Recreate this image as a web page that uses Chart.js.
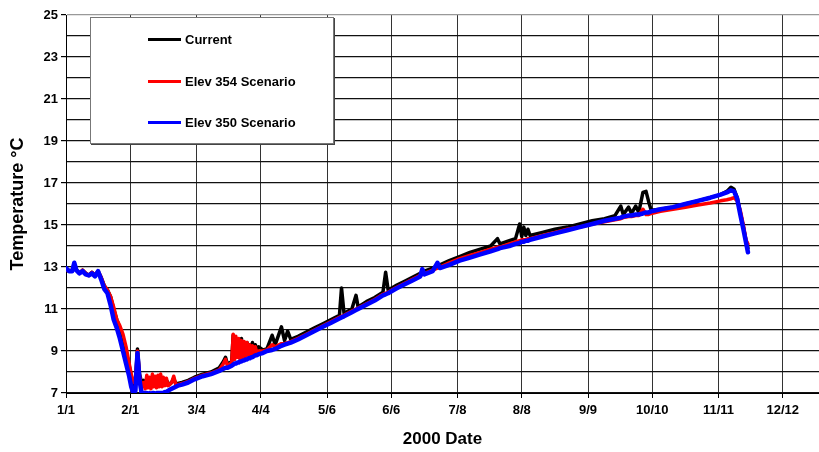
<!DOCTYPE html>
<html lang="en">
<head>
  <meta charset="UTF-8" />
  <title>2000 Temperature Scenarios</title>
  <script src="https://cdn.jsdelivr.net/npm/chart.js"></script>
  <style>
    body {
      margin: 0;
      background: #fff;
      font-family: "Liberation Sans", Arial, sans-serif;
    }
    .wrap {
      position: relative;
      width: 819px;
      height: 452px;
    }
    canvas {
      position: absolute;
      left: 0;
      top: 0;
    }
    .legend {
      position: absolute;
      left: 90px;
      top: 17px;
      width: 242px;
      height: 125px;
      background: #fff;
      border: 1px solid #777;
      box-shadow: 1px 1px 0 #444;
    }
    .legend div {
      position: absolute;
      left: 57px;
      font-weight: bold;
      font-size: 13px;
      line-height: 16px;
      color: #000;
      white-space: nowrap;
    }
    .legend span {
      display: inline-block;
      width: 33px;
      height: 3px;
      margin-right: 4px;
      vertical-align: middle;
      position: relative;
      top: -1px;
    }
  </style>
</head>
<body>
<div class="wrap">
  <canvas id="tempChart" width="819" height="452"></canvas>
  <div class="legend">
    <div style="top: 14px;"><span style="background:#000;"></span>Current</div>
    <div style="top: 56px;"><span style="background:#ff0000;"></span>Elev 354 Scenario</div>
    <div style="top: 97px;"><span style="background:#0000ff;"></span>Elev 350 Scenario</div>
  </div>
</div>

<script>
  // day of year 2000 (0 = Jan 1)
  const days = [0, 1.5, 3, 4, 5, 6.5, 8, 9.5, 11, 12.5, 14, 15.5, 17, 18.5, 20, 21.5, 23, 24.5, 26, 27.5,
    29, 30.5, 31.5, 32.5, 33.5, 34.5, 35.5,
    36.5, 37.5, 38.2, 39, 39.6, 40.3, 41, 41.7, 42.4, 43, 43.7, 44.4, 45, 45.7, 46.4, 47, 47.8, 48.5, 49.2, 50,
    51, 52, 53, 54, 56,
    59, 62, 66, 70, 74, 76, 77, 78,
    80, 80.7, 81.4, 82, 82.7, 83.4, 84, 84.7, 85.4, 86, 86.7, 87.4, 88, 88.7, 89.4, 90, 90.7, 91.4, 92, 93, 95,
    97, 99.5, 101, 104, 105.5, 107, 108.5, 112, 116, 120, 124, 128, 132, 133, 134.2, 138, 140, 141, 145, 149, 153,
    154.3, 155.5, 159, 163, 167, 171, 172, 173, 177, 179.3, 180.5, 185, 190, 195, 200, 205, 208.3, 209.5, 214, 217,
    219, 220, 221, 222, 223, 224, 230, 236, 242, 248, 254, 260, 265, 267.8, 269, 271.6, 273, 275, 276.5, 278.5,
    280, 281.3, 282.5, 287, 293, 299, 305, 311, 316, 319, 321, 322.5, 324, 325.5, 327, 328.2, 329.2];

  const current = [12.9, 12.8, 12.85, 13.15, 12.85, 12.7, 12.85, 12.7, 12.6, 12.75, 12.6, 12.8, 12.5, 12.1, 11.9, 11.6, 11.0, 10.5, 10.1, 9.6,
    9.0, 8.3, 7.8, 7.4, 7.6, 9.1, 7.9,
    7.5, 7.6, 7.5, 7.6, 7.5, 7.7, 7.45, 7.55, 7.5, 7.6, 7.45, 7.5, 7.55, 7.6, 7.45, 7.5, 7.45, 7.6, 7.5, 7.4,
    7.5, 7.7, 7.45, 7.45, 7.5,
    7.6, 7.75, 7.9, 8.0, 8.2, 8.5, 8.7, 8.35,
    8.5, 9.75, 8.9, 9.5, 9.0, 9.3, 8.9, 9.6, 9.0, 9.2, 8.9, 9.4, 8.95, 9.3, 9.0, 9.4, 9.0, 9.3, 9.05, 9.2, 9.05,
    9.1, 9.75, 9.3, 10.15, 9.5, 9.95, 9.55, 9.7, 9.9, 10.1, 10.3, 10.5, 10.7, 12.0, 10.8, 11.0, 11.65, 11.1, 11.35, 11.55, 11.8,
    12.75, 11.9, 12.1, 12.3, 12.5, 12.7, 12.75, 12.8, 12.95, 13.05, 13.1, 13.3, 13.5, 13.7, 13.85, 14.0, 14.35, 14.1, 14.25, 14.35,
    15.05, 14.45, 14.9, 14.5, 14.8, 14.5, 14.65, 14.8, 14.9, 15.05, 15.2, 15.3, 15.45, 15.9, 15.5, 15.85, 15.55, 15.9, 15.6, 16.55,
    16.6, 16.1, 15.7, 15.75, 15.85, 16.0, 16.15, 16.3, 16.45, 16.6, 16.8, 16.7, 16.3, 15.6, 14.9, 14.3, 13.9];

  const elev354 = [12.9, 12.8, 12.85, 13.1, 12.85, 12.7, 12.85, 12.7, 12.6, 12.75, 12.6, 12.8, 12.5, 12.1, 11.9, 11.6, 11.1, 10.5, 10.2, 9.8,
    9.2, 8.4, 7.9, 7.5, 7.5, 9.0, 7.8,
    7.3, 7.5, 7.2, 7.85, 7.25, 7.75, 7.2, 7.9, 7.3, 7.8, 7.25, 7.85, 7.3, 7.9, 7.3, 7.75, 7.35, 7.7, 7.35, 7.4,
    7.5, 7.8, 7.4, 7.4, 7.45,
    7.55, 7.7, 7.85, 7.95, 8.1, 8.4, 8.6, 8.3,
    8.45, 9.8, 8.6, 9.7, 8.7, 9.6, 8.6, 9.5, 8.7, 9.45, 8.75, 9.4, 8.8, 9.3, 8.8, 9.25, 8.85, 9.2, 8.95, 9.0, 9.0,
    9.05, 9.3, 9.2, 9.35, 9.35, 9.4, 9.45, 9.6, 9.8, 10.0, 10.2, 10.4, 10.6, 10.65, 10.7, 10.9, 11.0, 11.05, 11.25, 11.45, 11.7,
    11.75, 11.8, 12.0, 12.2, 12.4, 12.6, 12.65, 12.7, 12.85, 12.95, 13.0, 13.2, 13.4, 13.55, 13.7, 13.85, 13.95, 13.95, 14.1, 14.2,
    14.25, 14.3, 14.3, 14.3, 14.35, 14.35, 14.5, 14.65, 14.8, 14.9, 15.05, 15.15, 15.25, 15.3, 15.35, 15.4, 15.4, 15.45, 15.45, 15.75,
    15.5, 15.5, 15.55, 15.65, 15.75, 15.85, 15.95, 16.05, 16.15, 16.2, 16.25, 16.3, 16.15, 15.7, 15.0, 14.3, 14.1];

  const elev350 = [12.95, 12.8, 12.8, 13.2, 12.85, 12.7, 12.8, 12.65, 12.6, 12.7, 12.55, 12.8, 12.4, 11.95, 11.75, 11.2, 10.5, 10.1, 9.6, 9.0,
    8.4, 7.8, 7.3, 7.0, 7.1, 8.9, 7.6,
    7.0, 7.0, 7.0, 7.0, 6.95, 7.0, 6.95, 7.0, 7.0, 6.95, 7.0, 7.0, 7.0, 7.0, 7.0, 7.0, 7.05, 7.05, 7.1, 7.15,
    7.2, 7.25, 7.3, 7.35, 7.4,
    7.5, 7.65, 7.8, 7.9, 8.05, 8.15, 8.2, 8.2,
    8.3, 8.35, 8.4, 8.4, 8.45, 8.45, 8.5, 8.5, 8.55, 8.55, 8.6, 8.6, 8.65, 8.65, 8.7, 8.7, 8.75, 8.8, 8.8, 8.85, 8.9,
    9.0, 9.05, 9.1, 9.25, 9.3, 9.35, 9.4, 9.55, 9.75, 9.95, 10.15, 10.35, 10.55, 10.6, 10.65, 10.85, 10.95, 11.0, 11.2, 11.4, 11.65,
    11.7, 11.75, 11.95, 12.15, 12.35, 12.55, 12.9, 12.65, 12.8, 13.2, 12.95, 13.1, 13.3, 13.45, 13.6, 13.75, 13.85, 13.9, 14.0, 14.1,
    14.15, 14.2, 14.2, 14.25, 14.25, 14.3, 14.45, 14.6, 14.75, 14.9, 15.05, 15.2, 15.3, 15.35, 15.4, 15.45, 15.45, 15.5, 15.5, 15.55,
    15.6, 15.6, 15.65, 15.75, 15.85, 16.0, 16.15, 16.3, 16.45, 16.55, 16.65, 16.6, 16.25, 15.5, 14.8, 14.2, 13.7];

  const tickDays = [0, 31, 63, 94, 126, 157, 189, 220, 252, 283, 315, 346];
  const tickLabels = ['1/1', '2/1', '3/4', '4/4', '5/6', '6/6', '7/8', '8/8', '9/9', '10/10', '11/11', '12/12'];

  const toPoints = vals => days.map((d, i) => ({ x: d, y: vals[i] }));
  const fontFamily = '"Liberation Sans", Arial, sans-serif';

  const ctx = document.getElementById('tempChart').getContext('2d');

  new Chart(ctx, {
    type: 'line',
    data: {
      datasets: [
        { label: 'Current', data: toPoints(current), borderColor: '#000', borderWidth: 3.5, order: 2 },
        { label: 'Elev 354 Scenario', data: toPoints(elev354), borderColor: '#ff0000', borderWidth: 3.5, order: 1 },
        { label: 'Elev 350 Scenario', data: toPoints(elev350), borderColor: '#0000ff', borderWidth: 4.5, order: 0 }
      ]
    },
    options: {
      responsive: false,
      animation: false,
      events: [],
      elements: {
        point: { radius: 0 },
        line: { tension: 0, borderJoinStyle: 'round', borderCapStyle: 'round' }
      },
      layout: { padding: { top: 15, right: 0, left: 0, bottom: 0 } },
      plugins: {
        legend: { display: false },
        tooltip: { enabled: false }
      },
      scales: {
        x: {
          type: 'linear',
          min: 0,
          max: 363.5,
          afterBuildTicks: axis => { axis.ticks = tickDays.map(v => ({ value: v })); },
          afterFit: axis => { axis.height = 59; },
          ticks: {
            autoSkip: false,
            maxRotation: 0,
            padding: 5,
            color: '#000',
            font: { family: fontFamily, size: 13, weight: 'bold' },
            callback: (v, i) => tickLabels[i]
          },
          grid: { color: '#333', lineWidth: 1, tickLength: 5, tickColor: '#000' },
          border: { color: '#000', width: 1 },
          title: {
            display: true,
            text: '2000 Date',
            color: '#000',
            font: { family: fontFamily, size: 17, weight: 'bold' },
            padding: { top: 0, bottom: 2 }
          }
        },
        y: {
          min: 7,
          max: 25,
          afterFit: axis => { axis.width = 66; },
          ticks: {
            stepSize: 1,
            autoSkip: false,
            padding: 3,
            color: '#000',
            font: { family: fontFamily, size: 13, weight: 'bold' },
            callback: v => (v % 2 === 1 ? v : '')
          },
          grid: {
            color: c => (c.tick && c.tick.value === 25 ? '#999' : '#111'),
            lineWidth: 1.2,
            tickLength: 5,
            tickColor: c => (c.tick && c.tick.value % 2 === 1 ? '#000' : 'rgba(0,0,0,0)')
          },
          border: { color: '#000', width: 1 },
          title: {
            display: true,
            text: 'Temperature °C',
            color: '#000',
            font: { family: fontFamily, size: 18, weight: 'bold' },
            padding: { top: 7, bottom: 0 }
          }
        }
      }
    }
  });
</script>
</body>
</html>
